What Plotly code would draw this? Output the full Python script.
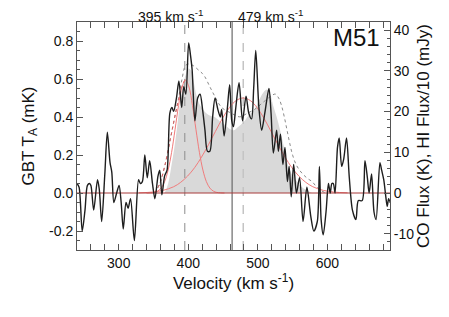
import plotly.graph_objects as go

# ---------------- data ----------------
# GBT spectrum (velocity km/s, T_A mK)
spec_v = [240, 243, 247.5, 251.5, 255, 258, 260, 264, 269.5, 272, 275.5, 280, 283.6, 287.5, 290,
          293, 297, 300.5, 303.5, 306.5, 310.5, 313.5, 317, 322.5, 328.5, 331, 334, 337.5, 341,
          344.5, 348.5, 352, 356.5, 359, 362, 366, 369.5, 373.5, 376.5, 379, 383, 386.5, 390.5,
          393.5, 396.5, 400.5, 403, 405.5, 409.5, 413.5, 417, 420.5, 424, 427.5, 431, 435, 438.5,
          442.5, 446, 448, 451.5, 456, 459.5, 462.5, 465, 468, 473, 478, 483, 487, 491, 494, 497,
          501.5, 505.5, 510, 516, 519, 522.3, 527, 529.5, 532.5, 536, 539, 542.5, 545, 548, 551.5,
          555.5, 560, 565, 570.5, 576, 580.5, 585.5, 588.5, 591, 594, 598, 601.5, 604, 606.5,
          608.5, 611, 614.5, 617, 620.5, 623.5, 627.5, 631.5, 636, 641, 644.5, 650, 654, 657.5,
          660, 663.5, 667, 670, 675.5, 678, 681, 684, 686, 688, 690]
spec_t = [0.05, 0.03, -0.20, -0.09, 0.04, 0.05, 0.04, -0.09, 0.07, 0.02, -0.15, 0.10, 0.32, 0.16, 0.11,
          -0.05, 0.0, 0.04, -0.05, -0.19, -0.05, -0.08, -0.03, -0.25, 0.07, 0.05, 0.06, 0.20, 0.08,
          0.17, 0.05, -0.03, 0.09, 0.12, -0.01, 0.09, 0.12, 0.42, 0.45, 0.43, 0.50, 0.59, 0.45,
          0.56, 0.52, 0.79, 0.73, 0.65, 0.38, 0.50, 0.52, 0.44, 0.33, 0.22, 0.22, 0.40, 0.50,
          0.44, 0.40, 0.44, 0.30, 0.44, 0.57, 0.38, 0.35, 0.44, 0.58, 0.38, 0.51, 0.42, 0.39, 0.55, 0.75,
          0.45, 0.33, 0.42, 0.55, 0.42, 0.21, 0.33, 0.22, 0.31, 0.15, 0.24, 0.06, 0.14, -0.02, 0.15,
          0.0, 0.08, -0.15, 0.03, -0.12, -0.20, -0.15, 0.14, -0.14, -0.22, -0.10, 0.05, 0.0, 0.05,
          0.05, 0.0, 0.24, 0.29, 0.14, 0.18, 0.29, 0.08, -0.09, -0.14, -0.04, -0.04, 0.17, 0.08,
          0.0, 0.10, -0.10, -0.14, 0.16, 0.12, 0.07, -0.02, -0.07, -0.03, -0.05]

# CO profile (right axis units: K)
co_v = [366, 371, 376, 380, 384, 388, 392, 396, 400, 404, 408, 412, 417, 423, 430, 437, 445, 452,
        458, 465, 472, 479, 487, 495, 502, 508, 513, 517, 522, 527, 532, 537, 541.5, 546, 551,
        556, 562, 570, 578]
co_f = [0, 2.3, 7.0, 11.2, 16.3, 21.9, 26.1, 28.9, 30.6, 30.1, 27.1, 23.8, 21.5, 20.1, 19.1, 18.7,
        17.7, 16.8, 15.9, 15.4, 16.3, 17.3, 19.1, 20.5, 22.9, 24.7, 25.4, 24.7, 21.5, 18.7, 15.4,
        11.7, 7.9, 5.6, 4.0, 2.8, 1.6, 0.7, 0]

# HI profile / 10 (right axis units: mJy)
hi_v = [352, 359, 366, 374, 380, 386, 391, 396, 401, 407, 414, 420, 424, 431, 438, 448, 462, 474,
        485, 495, 505, 512, 519, 525, 530, 534, 538, 542, 546, 550, 555, 560, 566, 572, 578, 584,
        590, 598]
hi_f = [0, 2.3, 6.5, 13.1, 18.2, 23.3, 28.0, 31.3, 31.7, 31.3, 30.3, 29.4, 28.5, 26.1, 23.8, 21.0,
        19.6, 18.7, 19.6, 20.5, 21.9, 22.9, 23.8, 24.3, 23.3, 21.5, 18.7, 15.4, 12.1, 9.3, 7.0, 5.6,
        4.4, 3.5, 2.8, 1.6, 0.7, 0]

# Gaussian components (T_A mK)
g1_v = [340, 346, 351, 356, 361, 366, 371, 376, 381, 386, 391, 396, 401, 406, 411, 416, 421, 426,
        431, 436, 441, 446, 452]
g1_t = [0.0, 0.001, 0.003, 0.010, 0.026, 0.060, 0.121, 0.214, 0.335, 0.461, 0.558, 0.595, 0.558,
        0.461, 0.335, 0.214, 0.121, 0.060, 0.026, 0.010, 0.003, 0.001, 0.0]
g2_v = [329, 349, 364, 379, 389, 399, 409, 419, 429, 439, 449, 459, 469, 479, 489, 499, 509, 519,
        529, 539, 549, 559, 569, 579, 594, 609, 629]
g2_t = [0.001, 0.005, 0.014, 0.033, 0.056, 0.089, 0.133, 0.189, 0.254, 0.324, 0.392, 0.449, 0.487,
        0.500, 0.487, 0.449, 0.392, 0.324, 0.254, 0.189, 0.133, 0.089, 0.056, 0.033, 0.014, 0.005,
        0.001]
# red dotted curve on the rising edge
rd_v = [352, 359, 366, 374, 380, 386, 393, 397]
rd_t = [0.0, 0.05, 0.14, 0.28, 0.39, 0.49, 0.58, 0.60]

# reference velocities
v_low, v_sys, v_high = 395, 463, 479
x_range = [240, 690]
y_range = [-0.3, 0.9]
y2_range = [-14, 42]
y_ticks = [-0.2, 0.0, 0.2, 0.4, 0.6, 0.8]
y_ticktext = ['-0.2', '0.0', '0.2', '0.4', '0.6', '0.8']
y2_ticks = [-10, 0, 10, 20, 30, 40]
y2_ticktext = ['-10', '0', '10', '20', '30', '40']
x_ticks = [300, 400, 500, 600]

# right-axis values expressed on the left axis (the two axes share the same zero and span)
scale = (y_range[1] - y_range[0]) / (y2_range[1] - y2_range[0])
co_left = [f * scale for f in co_f]
hi_left = [f * scale for f in hi_f]

FONT = "Liberation Sans, Arial, Helvetica, sans-serif"
AX = "#555555"

fig = go.Figure()
fig.add_trace(go.Scatter(x=co_v, y=co_left, mode="lines", fill="tozeroy",
                         fillcolor="#d9d9d9", line=dict(color="rgba(0,0,0,0)", width=0),
                         line_shape="spline", hoverinfo="skip"))
fig.add_trace(go.Scatter(x=hi_v, y=hi_left, mode="lines", line_shape="spline",
                         line=dict(color="#8a8a8a", width=1, dash="dot")))
# vertical reference lines
fig.add_trace(go.Scatter(x=[v_low, v_low], y=y_range, mode="lines",
                         line=dict(color="#8c8c8c", width=1, dash="dash")))
fig.add_trace(go.Scatter(x=[v_high, v_high], y=y_range, mode="lines",
                         line=dict(color="#c4c4c4", width=1.5, dash="dash")))
fig.add_trace(go.Scatter(x=[v_sys, v_sys], y=y_range, mode="lines",
                         line=dict(color="#6a6a6a", width=1.2)))
# gaussians
fig.add_trace(go.Scatter(x=g1_v, y=g1_t, mode="lines", line_shape="spline",
                         line=dict(color="#f07c7c", width=1)))
fig.add_trace(go.Scatter(x=g2_v, y=g2_t, mode="lines", line_shape="spline",
                         line=dict(color="#f07c7c", width=1)))
fig.add_trace(go.Scatter(x=rd_v, y=rd_t, mode="lines", line_shape="spline",
                         line=dict(color="#e06060", width=1, dash="dot")))
# zero line
fig.add_trace(go.Scatter(x=x_range, y=[0, 0], mode="lines",
                         line=dict(color="#a83a3a", width=1)))
# spectrum
fig.add_trace(go.Scatter(x=spec_v, y=spec_t, mode="lines", line_shape="spline",
                         line=dict(color="#1e1e1e", width=1.4, smoothing=0.8)))
# anchor trace for the right axis
fig.add_trace(go.Scatter(x=[None], y=[None], yaxis="y2", mode="lines", hoverinfo="skip"))

# the page body has an 8 px default margin, so the figure is sized to fit inside the window
fig.update_layout(
    width=441, height=309,
    margin=dict(l=69, r=59, t=14, b=67, autoexpand=False),
    paper_bgcolor="white", plot_bgcolor="white",
    showlegend=False,
    font=dict(family=FONT, size=14, color="#111111"),
    xaxis=dict(range=x_range, tickvals=x_ticks, showgrid=False, zeroline=False, automargin=False,
               showline=True, linecolor=AX, linewidth=1, mirror="allticks",
               ticks="inside", ticklen=6, tickcolor=AX,
               minor=dict(ticks="inside", dtick=20, ticklen=3, tickcolor=AX),
               title=dict(text="Velocity (km s<sup>-1</sup>)", standoff=4),
               tickfont=dict(size=14)),
    yaxis=dict(range=y_range, tickvals=y_ticks, ticktext=y_ticktext, showgrid=False,
               zeroline=False, showline=True, linecolor=AX, linewidth=1, automargin=False,
               ticks="inside", ticklen=6, tickcolor=AX,
               minor=dict(ticks="inside", dtick=0.05, tick0=0, ticklen=3, tickcolor=AX),
               title=dict(text="GBT T<sub>A</sub> (mK)", standoff=10),
               tickfont=dict(size=14)),
    yaxis2=dict(range=y2_range, tickvals=y2_ticks, ticktext=y2_ticktext, overlaying="y",
                side="right", showgrid=False, zeroline=False, showline=True, linecolor=AX,
                linewidth=1, ticks="inside", ticklen=6, tickcolor=AX, automargin=False,
                minor=dict(ticks="inside", dtick=2, tick0=0, ticklen=3, tickcolor=AX),
                title=dict(text="CO Flux (K), HI Flux/10 (mJy)", standoff=0),
                tickfont=dict(size=14)),
    annotations=[
        dict(text="395 km s<sup>-1</sup>", xref="paper", yref="paper", x=0.30, y=1.0, yshift=-5,
             xanchor="center", yanchor="bottom", showarrow=False, font=dict(size=14)),
        dict(text="479 km s<sup>-1</sup>", xref="paper", yref="paper", x=0.62, y=1.0, yshift=-5,
             xanchor="center", yanchor="bottom", showarrow=False, font=dict(size=14)),
        dict(text="M51", xref="paper", yref="paper", x=0.975, y=0.93,
             xanchor="right", yanchor="middle", showarrow=False, font=dict(size=24)),
    ],
)

fig.write_html("out.html")
